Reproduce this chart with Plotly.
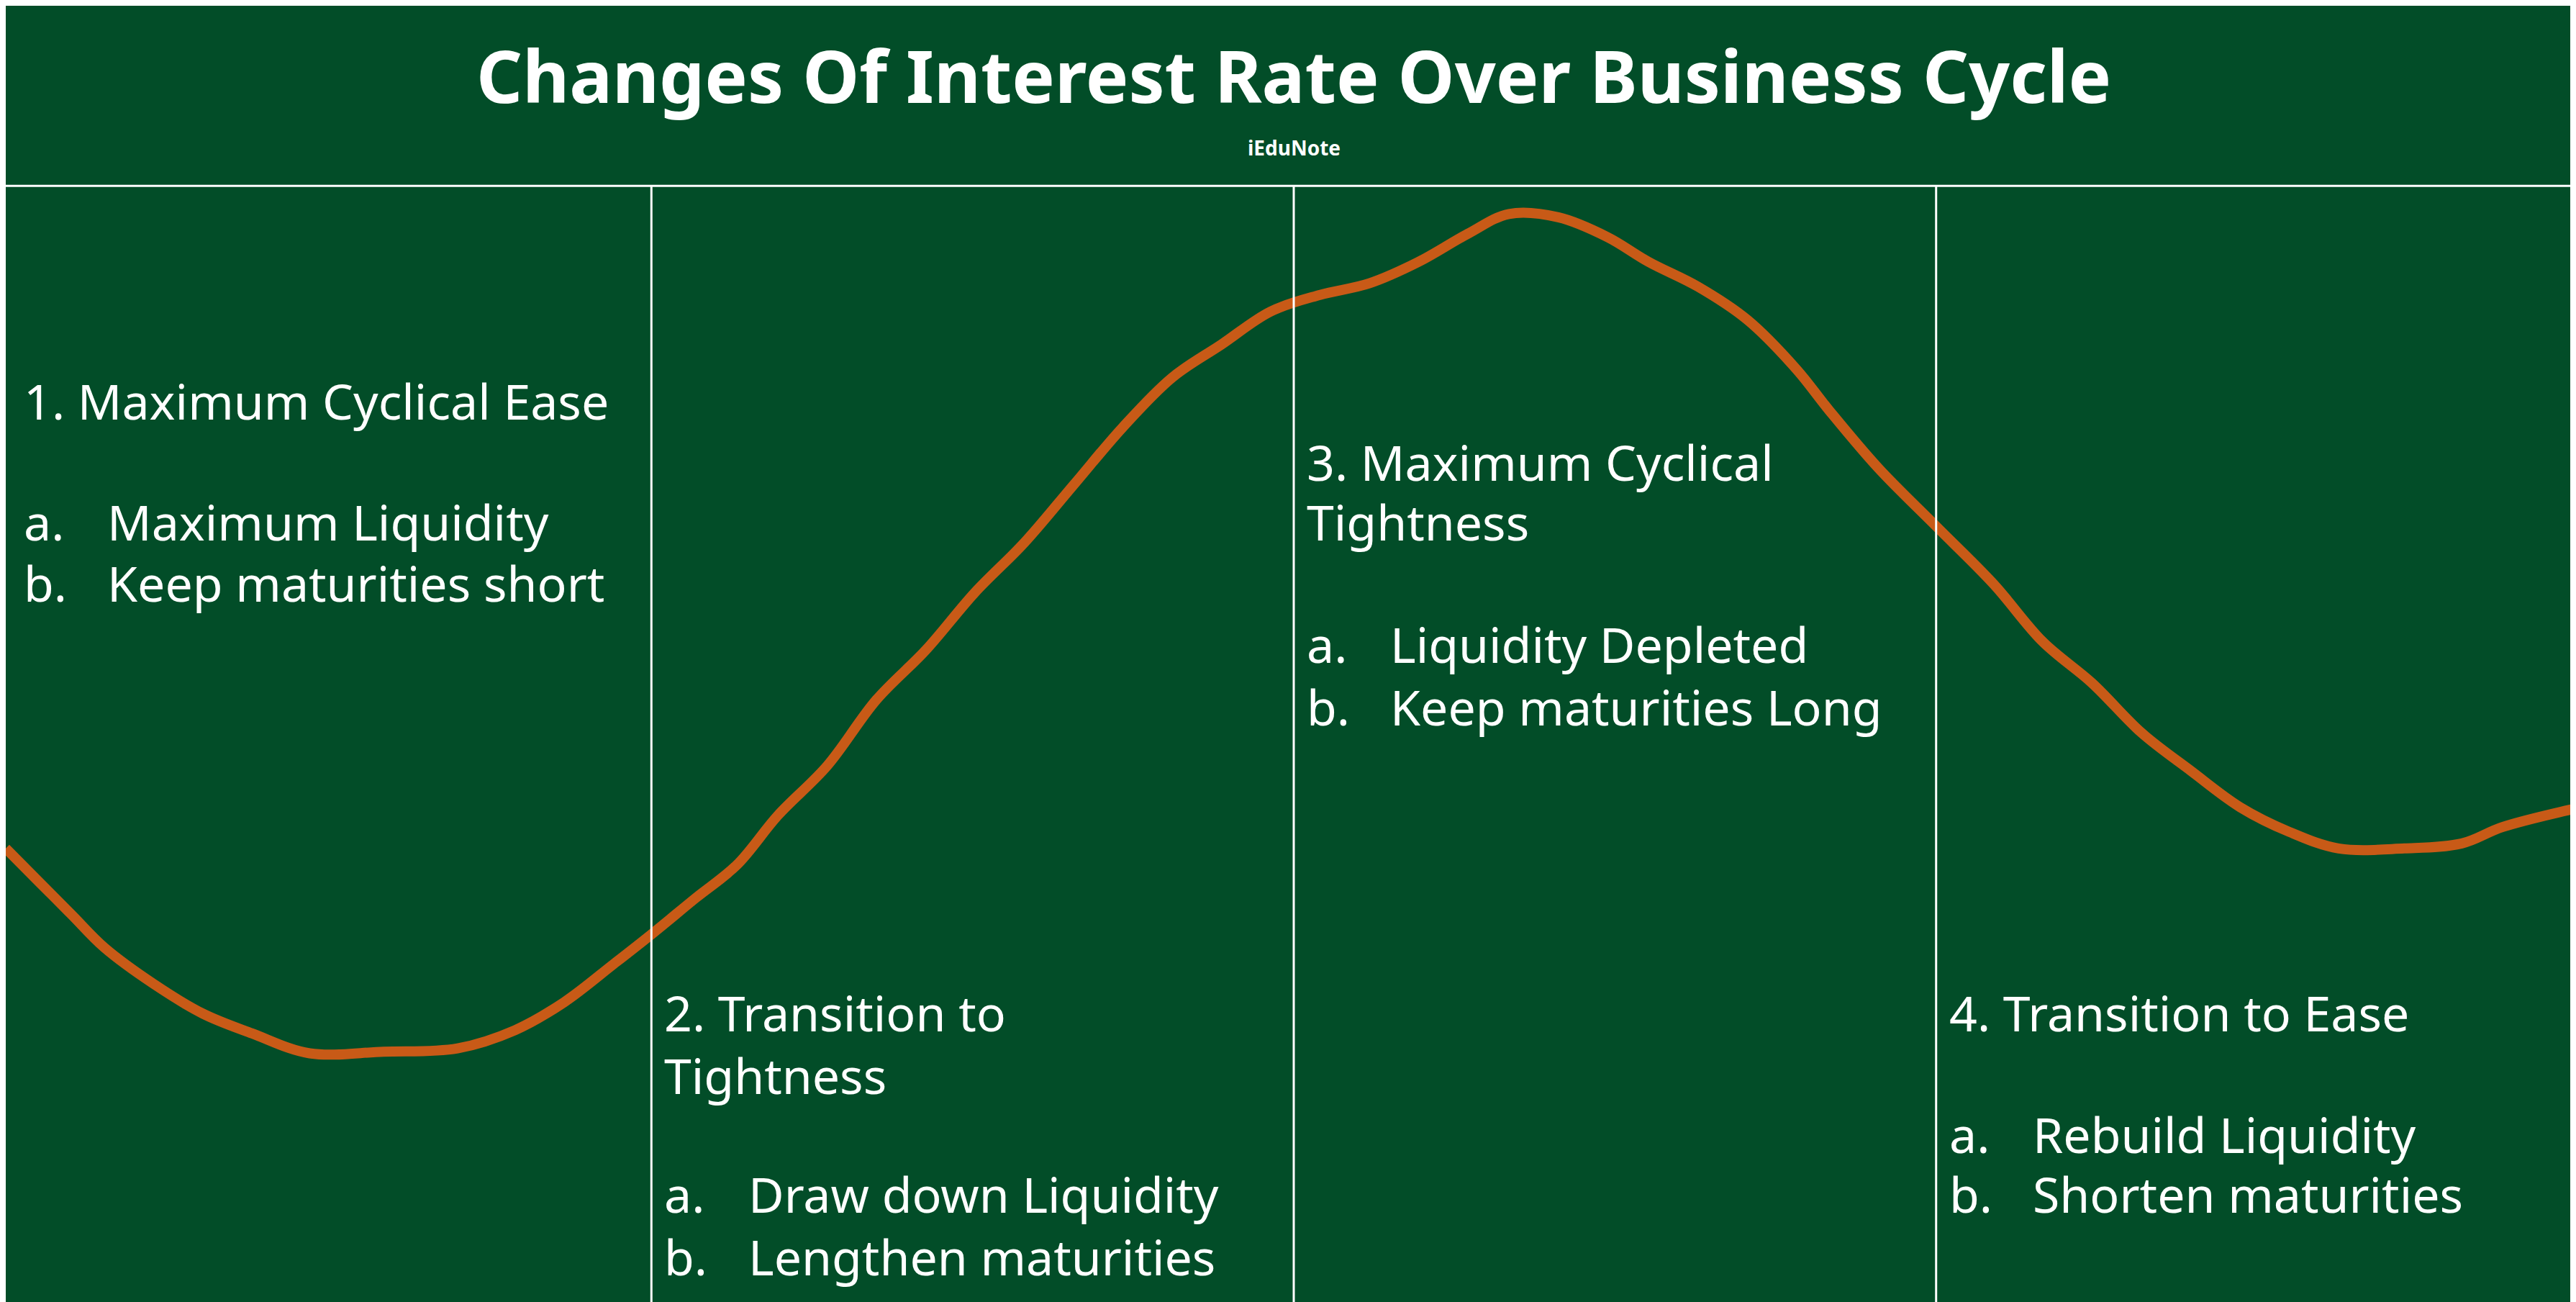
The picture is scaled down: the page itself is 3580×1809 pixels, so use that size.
import plotly.graph_objects as go

# curve (x across cycle, y = height of rate line)
cycle_x = [0, 20, 40, 60, 90, 120, 150, 185, 230, 275, 310, 340, 370, 393, 420, 445, 470,
           500, 530, 560, 590, 620, 650, 680, 710, 740, 770, 800, 830, 860, 890, 915, 945,
           975, 1000, 1030, 1060, 1090, 1110, 1140, 1175, 1210, 1240, 1270, 1300, 1330,
           1360, 1390, 1420, 1460, 1495, 1520, 1568]
rate_y = [510, 530, 550, 570, 592, 610, 622, 634, 633, 631, 620, 603, 580, 562, 540, 520, 490,
          460, 420, 390, 355, 325, 290, 255, 225, 205, 185, 175, 168, 155, 138, 126, 128,
          140, 155, 170, 190, 220, 245, 280, 315, 350, 385, 410, 440, 463,
          485, 500, 510, 510, 507, 497, 485]

phase_lines = [393, 784, 1175]

# phase text: (x, y, text)
headings = [
    (10, 245, "1. Maximum Cyclical Ease"),
    (400, 615, "2. Transition to"),
    (400, 653, "Tightness"),
    (791, 282, "3. Maximum Cyclical"),
    (791, 318, "Tightness"),
    (1182, 615, "4. Transition to Ease"),
]
items = [
    (10, 318, "a.", "Maximum Liquidity"),
    (10, 355, "b.", "Keep maturities short"),
    (400, 725, "a.", "Draw down Liquidity"),
    (400, 763, "b.", "Lengthen maturities"),
    (791, 392, "a.", "Liquidity Depleted"),
    (791, 430, "b.", "Keep maturities Long"),
    (1182, 689, "a.", "Rebuild Liquidity"),
    (1182, 725, "b.", "Shorten maturities"),
]

GREEN = "#024d28"
ORANGE = "#c85a17"
FONT = "Noto Sans"
SHIFT = -6

fig = go.Figure()
fig.add_trace(go.Scatter(x=cycle_x, y=rate_y, mode="lines",
                         line=dict(color=ORANGE, width=14, shape="spline"),
                         hoverinfo="skip"))

shapes = [dict(type="line", xref="x", yref="y", x0=0, x1=1568, y0=109, y1=109,
               line=dict(color="white", width=3))]
for lx in phase_lines:
    shapes.append(dict(type="line", xref="x", yref="y", x0=lx, x1=lx, y0=109, y1=788,
                       line=dict(color="white", width=3)))

ann = [dict(x=784, y=42, text="<b>Changes Of Interest Rate Over Business Cycle</b>",
            showarrow=False, font=dict(family=FONT, size=100, color="white")),
       dict(x=784, y=86, text="<b>iEduNote</b>", showarrow=False,
            font=dict(family=FONT, size=28, color="white"))]
for x, y, t in headings:
    ann.append(dict(x=x, y=y + SHIFT, text=t, showarrow=False, xanchor="left",
                    font=dict(family=FONT, size=68, color="white")))
for x, y, lab, t in items:
    ann.append(dict(x=x, y=y + SHIFT, text=lab, showarrow=False, xanchor="left",
                    font=dict(family=FONT, size=68, color="white")))
    ann.append(dict(x=x + 51, y=y + SHIFT, text=t, showarrow=False, xanchor="left",
                    font=dict(family=FONT, size=68, color="white")))

fig.update_layout(
    width=3580, height=1809, margin=dict(l=0, r=0, t=0, b=0),
    paper_bgcolor=GREEN, plot_bgcolor=GREEN, showlegend=False,
    shapes=shapes, annotations=ann,
    xaxis=dict(range=[0, 1568], visible=False, fixedrange=True),
    yaxis=dict(range=[788, 0], visible=False, fixedrange=True),
)

fig.write_html("out.html")
